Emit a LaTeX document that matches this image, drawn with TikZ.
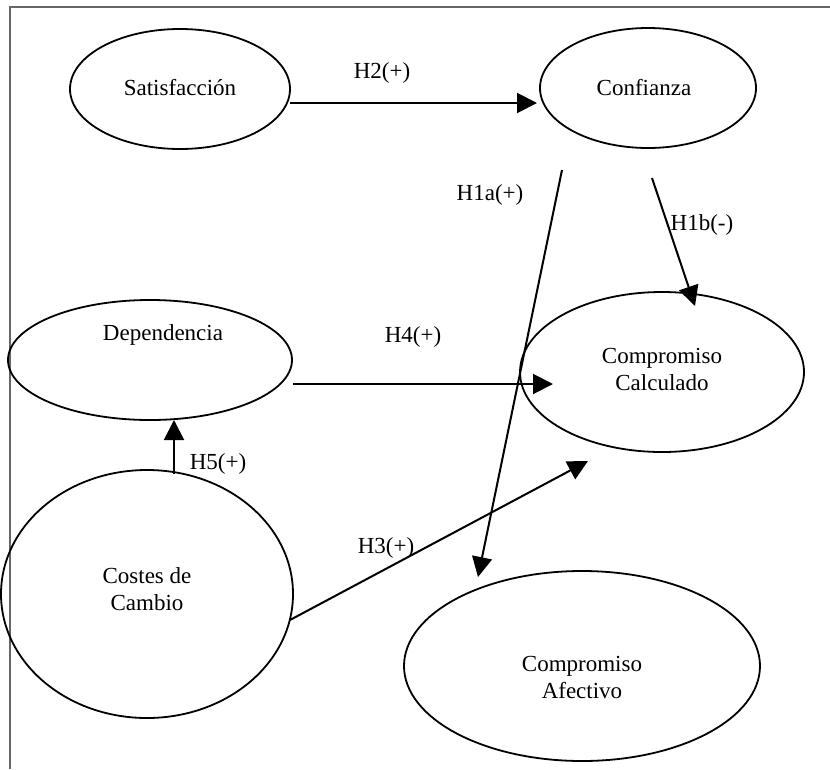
\documentclass[tikz,border=0pt]{standalone}
\usepackage{fontspec}
\setmainfont{Liberation Serif}
\usetikzlibrary{shapes.geometric,arrows.meta}
\begin{document}
\begin{tikzpicture}[x=1pt,y=-1pt,
  ell/.style={draw,ellipse,line width=1.8pt,inner sep=0pt},
  lbl/.style={font=\fontsize{23}{27}\selectfont,inner sep=0pt},
  arr/.style={line width=2pt,-{Triangle[length=20pt,width=20pt]}}]
\useasboundingbox (0,0) rectangle (830,769);
\draw[gray!80!black,line width=1.5pt] (10,769) -- (10,7) -- (830,7);
% ellipses
\node[ell,minimum width=220pt,minimum height=120pt] (sat) at (180,89) {};
\node[ell,minimum width=216pt,minimum height=120pt] (conf) at (648,88) {};
\node[ell,minimum width=284pt,minimum height=120pt] (dep) at (150,360) {};
\node[ell,minimum width=284pt,minimum height=160pt] (calc) at (662,372) {};
\node[ell,minimum width=292pt,minimum height=248pt] (cost) at (147,594) {};
\node[ell,minimum width=356pt,minimum height=190pt] (afec) at (582,666) {};
% texts
\node[lbl] (tsat) at (180,88) {Satisfacción};
\node[lbl] (tconf) at (644,88) {Confianza};
\node[lbl] (tdep) at (163,335) {Dependencia};
\node[lbl,align=center] (tcalc) at (662,369) {Compromiso\\Calculado};
\node[lbl,align=center] (tcost) at (147,589) {Costes de\\Cambio};
\node[lbl,align=center] (tafec) at (582,677) {Compromiso\\Afectivo};
% connector endpoints
\coordinate (h2s) at (290,103);
\coordinate (h2e) at (537,103);
\coordinate (h1as) at (562,170);
\coordinate (h1ae) at (478,577);
\coordinate (h1bs) at (652,178);
\coordinate (h1be) at (695,306);
\coordinate (h4s) at (293,384);
\coordinate (h4e) at (553,384);
\coordinate (h5s) at (174,474);
\coordinate (h5e) at (174,420);
\coordinate (h3s) at (290,620);
\coordinate (h3e) at (588,461);
\draw[arr] (h2s) -- (h2e);
\draw[arr] (h1as) -- (h1ae);
\draw[arr] (h1bs) -- (h1be);
\draw[arr] (h4s) -- (h4e);
\draw[arr] (h5s) -- (h5e);
\draw[arr] (h3s) -- (h3e);
% labels
\node[lbl] (l2) at (382,73) {H2(+)};
\node[lbl] (l1a) at (490,195) {H1a(+)};
\node[lbl] (l1b) at (702,225) {H1b(-)};
\node[lbl] (l4) at (413,337) {H4(+)};
\node[lbl] (l5) at (218,464) {H5(+)};
\node[lbl] (l3) at (386,548) {H3(+)};
\end{tikzpicture}
\end{document}
